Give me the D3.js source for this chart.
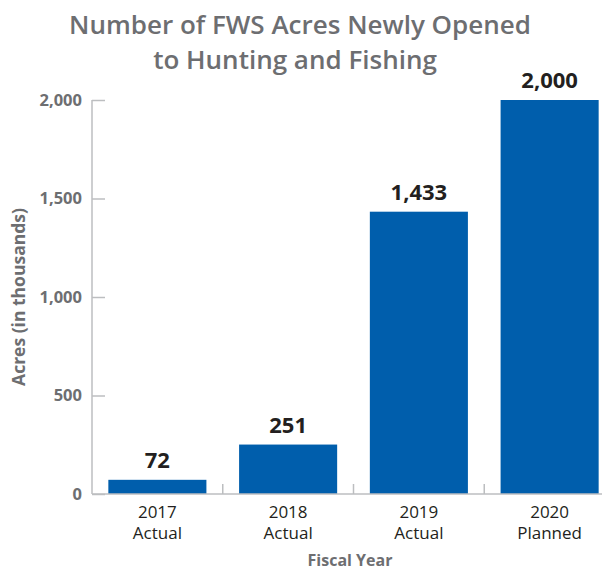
<!DOCTYPE html>
<html>
<head>
<meta charset="utf-8">
<script src="https://cdn.jsdelivr.net/npm/d3@7"></script>
<style>
  body { margin: 0; background: #fff; }
  svg text { font-family: "Open Sans", "Noto Sans", sans-serif; }
</style>
</head>
<body>
<div id="chart"></div>
<script>
// Data
const years = ["2017", "2018", "2019", "2020"];
const status = ["Actual", "Actual", "Actual", "Planned"];
const acres = [72, 251, 1433, 2000];
const yTicks = [0, 500, 1000, 1500, 2000];

const W = 608, H = 571;
const margin = {top: 100, right: 0, bottom: 77, left: 92};

const svg = d3.select("#chart")
    .append("svg")
    .attr("width", W)
    .attr("height", H);

// Scales
const x = d3.scaleBand()
    .domain(years)
    .range([margin.left, 615])
    .paddingInner(0.25)
    .paddingOuter(0.125);

const y = d3.scaleLinear()
    .domain([0, 2000])
    .range([494, margin.top]);

const grey = "#6d6e71";
const axisGrey = "#bcbec0";

// Title
svg.append("text")
    .attr("x", 300).attr("y", 34)
    .attr("text-anchor", "middle")
    .attr("font-size", 26).attr("font-weight", 600)
    .attr("fill", grey)
    .text("Number of FWS Acres Newly Opened");
svg.append("text")
    .attr("x", 295).attr("y", 69)
    .attr("text-anchor", "middle")
    .attr("font-size", 26).attr("font-weight", 600)
    .attr("fill", grey)
    .text("to Hunting and Fishing");

// Bars
svg.selectAll(".bar")
    .data(acres)
    .join("rect")
    .attr("class", "bar")
    .attr("x", (d, i) => x(years[i]))
    .attr("y", d => y(d))
    .attr("width", x.bandwidth())
    .attr("height", d => y(0) - y(d))
    .attr("fill", "#005eac");

// Value labels
svg.selectAll(".val")
    .data(acres)
    .join("text")
    .attr("class", "val")
    .attr("x", (d, i) => x(years[i]) + x.bandwidth() / 2)
    .attr("y", d => y(d) - 12)
    .attr("text-anchor", "middle")
    .attr("font-size", 22).attr("font-weight", 700)
    .attr("fill", "#231f20")
    .text(d => d3.format(",")(d));

// Y axis
const yAxis = svg.append("g")
    .attr("transform", `translate(${margin.left},0)`)
    .call(d3.axisRight(y).tickValues(yTicks).tickSize(13).tickFormat(d3.format(",")));
yAxis.select(".domain").attr("stroke", axisGrey).attr("stroke-width", 1.5)
    .attr("d", `M0,${y(0)}V${y(2000)}`);
yAxis.selectAll(".tick line").attr("stroke", axisGrey).attr("stroke-width", 1.5);
yAxis.selectAll(".tick text")
    .attr("x", -10)
    .attr("text-anchor", "end")
    .attr("font-size", 16.5).attr("font-weight", 700)
    .attr("fill", grey);

// X axis with boundary ticks
const xAxis = svg.append("g");
xAxis.append("line")
    .attr("x1", margin.left).attr("x2", 602)
    .attr("y1", y(0)).attr("y2", y(0))
    .attr("stroke", axisGrey).attr("stroke-width", 1.5);
xAxis.selectAll(".sep")
    .data(years.slice(1))
    .join("line")
    .attr("class", "sep")
    .attr("x1", d => x(d) - x.step() * x.paddingInner() / 2)
    .attr("x2", d => x(d) - x.step() * x.paddingInner() / 2)
    .attr("y1", y(0)).attr("y2", y(0) - 10)
    .attr("stroke", axisGrey).attr("stroke-width", 1.5);

// Category labels (two lines)
svg.selectAll(".cat")
    .data(years)
    .join("text")
    .attr("class", "cat")
    .attr("x", d => x(d) + x.bandwidth() / 2)
    .attr("y", 518)
    .attr("text-anchor", "middle")
    .attr("font-size", 17)
    .attr("fill", "#231f20")
    .text(d => d);
svg.selectAll(".cat2")
    .data(status)
    .join("text")
    .attr("class", "cat2")
    .attr("x", (d, i) => x(years[i]) + x.bandwidth() / 2)
    .attr("y", 539)
    .attr("text-anchor", "middle")
    .attr("font-size", 17)
    .attr("fill", "#231f20")
    .text(d => d);

// Axis titles
svg.append("text")
    .attr("x", 350).attr("y", 566)
    .attr("text-anchor", "middle")
    .attr("font-size", 16).attr("font-weight", 700)
    .attr("fill", grey)
    .text("Fiscal Year");

svg.append("text")
    .attr("transform", `translate(25,${(y(0) + y(2000)) / 2}) rotate(-90)`)
    .attr("text-anchor", "middle")
    .attr("font-size", 17.5).attr("font-weight", 700)
    .attr("fill", grey)
    .text("Acres (in thousands)");
</script>
</body>
</html>
